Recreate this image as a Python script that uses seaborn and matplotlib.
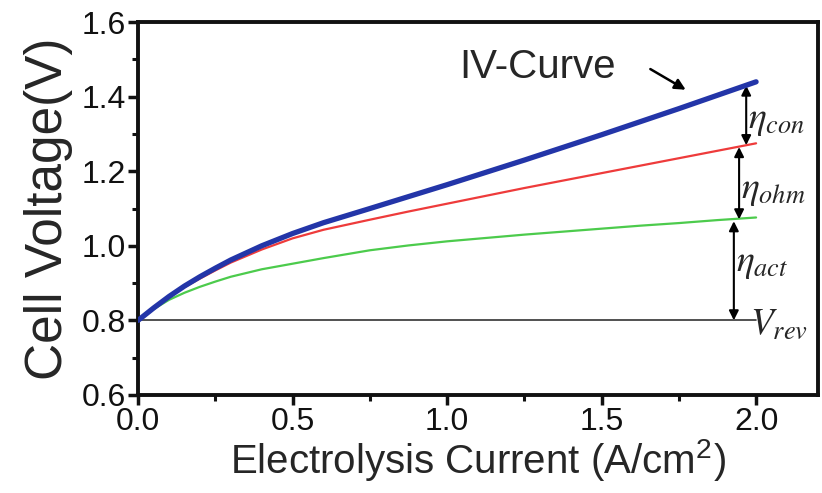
import numpy as np
import pandas as pd
import matplotlib
matplotlib.use("Agg")
import matplotlib.pyplot as plt
import seaborn as sns

# ── data ──────────────────────────────────────────────────────────────────────
current = [0.0, 0.05, 0.1, 0.15, 0.2, 0.25, 0.3, 0.4, 0.5, 0.6, 0.75, 0.875,
           1.0, 1.125, 1.25, 1.375, 1.5, 1.625, 1.75, 1.875, 2.0]
v_iv  = [0.800, 0.833, 0.864, 0.892, 0.917, 0.940, 0.962, 1.000, 1.033, 1.062, 1.100,
         1.132, 1.164, 1.197, 1.230, 1.264, 1.298, 1.333, 1.368, 1.404, 1.440]
v_ohm = [0.800, 0.833, 0.863, 0.889, 0.912, 0.934, 0.955, 0.990, 1.020, 1.043, 1.070,
         1.092, 1.113, 1.134, 1.155, 1.175, 1.195, 1.215, 1.235, 1.255, 1.275]
v_act = [0.800, 0.830, 0.855, 0.874, 0.890, 0.904, 0.917, 0.937, 0.952, 0.967, 0.988,
         1.001, 1.012, 1.021, 1.030, 1.038, 1.046, 1.054, 1.061, 1.069, 1.076]
v_rev = 0.8

BLUE = "#2335A8"; RED = "#EE3B3B"; GREEN = "#4CCB4C"

n = len(current)
df = pd.DataFrame({"I": current * 3,
                   "V": v_iv + v_ohm + v_act,
                   "curve": ["iv"] * n + ["ohm"] * n + ["act"] * n})

sns.set_style("ticks")
plt.rcParams["font.family"] = ["Liberation Sans", "DejaVu Sans"]
plt.rcParams["mathtext.fontset"] = "stix"

fig = plt.figure(figsize=(8.22, 4.93), dpi=100)
ax = fig.add_axes([0.168, 0.199, 0.827, 0.756])

ax.plot([0, 2.0], [v_rev, v_rev], color="#333333", lw=1.2, zorder=1)
sns.lineplot(data=df[df.curve == "act"], x="I", y="V", color=GREEN, lw=1.6, ax=ax, zorder=2)
sns.lineplot(data=df[df.curve == "ohm"], x="I", y="V", color=RED, lw=1.6, ax=ax, zorder=3)
sns.lineplot(data=df[df.curve == "iv"], x="I", y="V", color=BLUE, lw=3.8, ax=ax, zorder=4)

ax.set_xlim(0, 2.2)
ax.set_ylim(0.6, 1.6)
ax.set_xticks([0.0, 0.5, 1.0, 1.5, 2.0])
ax.set_xticks([0.25, 0.75, 1.25, 1.75], minor=True)
ax.set_yticks([0.6, 0.8, 1.0, 1.2, 1.4, 1.6])
ax.set_yticks([0.7, 0.9, 1.1, 1.3, 1.5], minor=True)
ax.set_xticklabels(["0.0", "0.5", "1.0", "1.5", "2.0"])
ax.set_yticklabels(["0.6", "0.8", "1.0", "1.2", "1.4", "1.6"])
ax.tick_params(which="major", direction="out", length=7, width=2.5, labelsize=23, pad=2, colors="#111111")
ax.tick_params(which="minor", direction="out", length=4.5, width=2.2, colors="#111111")
for s in ax.spines.values():
    s.set_linewidth(2.8)
    s.set_color("#111111")

ax.set_xlabel(r"Electrolysis Current (A/cm$^\mathregular{2}$)", fontsize=29, labelpad=0)
ax.set_ylabel("Cell Voltage(V)", fontsize=37, labelpad=6)

# overpotential arrows
arr = dict(arrowstyle="<|-|>", color="black", lw=1.5, mutation_scale=14, shrinkA=0, shrinkB=0)
ax.annotate("", xy=(1.968, v_iv[-1] - 0.01), xytext=(1.968, v_ohm[-1] - 0.005), arrowprops=arr)
ax.annotate("", xy=(1.945, v_ohm[-1] - 0.01), xytext=(1.945, v_act[-1] - 0.005), arrowprops=arr)
ax.annotate("", xy=(1.928, v_act[-1] - 0.01), xytext=(1.928, v_rev), arrowprops=arr)

ax.text(1.975, 1.338, r"$\eta_{con}$", fontsize=27, va="center", ha="left")
ax.text(1.95, 1.15, r"$\eta_{ohm}$", fontsize=27, va="center", ha="left")
ax.text(1.935, 0.955, r"$\eta_{act}$", fontsize=27, va="center", ha="left")
ax.text(1.98, 0.79, r"$V_{rev}$", fontsize=27, va="center", ha="left")

ax.text(1.04, 1.48, "IV-Curve", fontsize=29, va="center", ha="left")
ax.annotate("", xy=(1.78, 1.415), xytext=(1.65, 1.478),
            arrowprops=dict(arrowstyle="-|>", color="black", lw=1.8, mutation_scale=16))

fig.savefig("out.png", dpi=100)
